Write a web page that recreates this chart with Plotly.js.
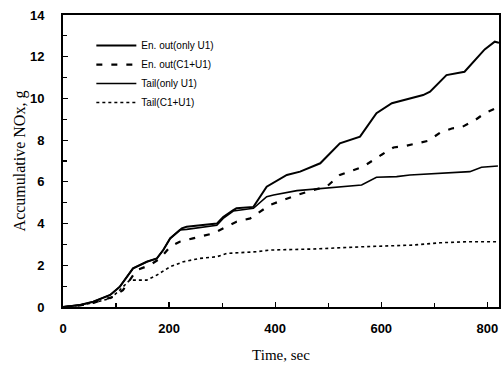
<!DOCTYPE html>
<html>
<head>
<meta charset="utf-8">
<script src="https://cdn.plot.ly/plotly-3.0.1.min.js"></script>
<style>html,body{margin:0;padding:0;background:#fff;}#chart{width:503px;height:379px;}</style>
</head>
<body>
<div id="chart"></div>
<script>
// Series: time (sec) and accumulative NOx (g)
const enOnlyT = [0, 32, 57, 89, 107, 120, 132, 158, 177, 189, 202, 224, 233, 290, 302, 321, 327, 359, 384, 422, 447, 485, 522, 560, 591, 620, 648, 679, 692, 723, 757, 777, 795, 814, 822];
const enOnlyV = [0, 0.1, 0.25, 0.58, 0.97, 1.45, 1.85, 2.17, 2.33, 2.73, 3.29, 3.77, 3.85, 4.0, 4.32, 4.65, 4.73, 4.8, 5.77, 6.33, 6.49, 6.89, 7.85, 8.17, 9.29, 9.77, 9.96, 10.16, 10.32, 11.12, 11.28, 11.84, 12.35, 12.72, 12.67];

const enC1T = [0, 32, 57, 95, 113, 126, 139, 164, 183, 202, 220, 245, 283, 327, 353, 390, 441, 472, 497, 522, 566, 600, 623, 645, 667, 689, 711, 733, 751, 777, 795, 816];
const enC1V = [0, 0.08, 0.2, 0.49, 0.81, 1.29, 1.77, 2.01, 2.33, 2.89, 3.13, 3.29, 3.53, 4.09, 4.25, 4.89, 5.37, 5.61, 5.77, 6.33, 6.73, 7.29, 7.65, 7.72, 7.85, 7.97, 8.36, 8.56, 8.61, 8.96, 9.29, 9.53];

const tailOnlyT = [0, 32, 57, 89, 107, 120, 132, 158, 177, 189, 202, 220, 233, 290, 302, 321, 359, 384, 397, 441, 497, 535, 563, 591, 629, 654, 692, 755, 767, 789, 820];
const tailOnlyV = [0, 0.1, 0.25, 0.58, 0.97, 1.45, 1.85, 2.17, 2.33, 2.73, 3.29, 3.69, 3.72, 3.92, 4.25, 4.6, 4.73, 5.29, 5.37, 5.58, 5.69, 5.8, 5.85, 6.22, 6.25, 6.33, 6.38, 6.44, 6.49, 6.7, 6.76];

const tailC1T = [0, 32, 57, 89, 107, 126, 158, 177, 202, 227, 258, 290, 309, 365, 390, 472, 566, 660, 711, 761, 820];
const tailC1V = [0, 0.08, 0.2, 0.41, 0.81, 1.29, 1.29, 1.53, 1.93, 2.17, 2.33, 2.41, 2.57, 2.65, 2.73, 2.78, 2.89, 2.97, 3.08, 3.13, 3.13];

const names = ["En. out(only U1)", "En. out(C1+U1)", "Tail(only U1)", "Tail(C1+U1)"];
const xTicks = [0, 200, 400, 600, 800];
const yTicks = [0, 2, 4, 6, 8, 10, 12, 14];

const traces = [
  {x: enOnlyT, y: enOnlyV, name: names[0], mode: 'lines', line: {color: '#000', width: 2, dash: 'solid'}},
  {x: enC1T, y: enC1V, name: names[1], mode: 'lines', line: {color: '#000', width: 2.2, dash: '6px,9px'}},
  {x: tailOnlyT, y: tailOnlyV, name: names[2], mode: 'lines', line: {color: '#000', width: 1.6, dash: 'solid'}},
  {x: tailC1T, y: tailC1V, name: names[3], mode: 'lines', line: {color: '#000', width: 1.6, dash: 'dot'}}
];

const layout = {
  width: 503, height: 379,
  margin: {l: 63, r: 4, t: 15, b: 72},
  paper_bgcolor: '#fff', plot_bgcolor: '#fff',
  showlegend: true,
  legend: {x: 0.065, y: 0.945, xanchor: 'left', yanchor: 'top', bgcolor: 'rgba(0,0,0,0)',
           font: {family: 'Liberation Sans, Arial, sans-serif', size: 10, color: '#000'},
           tracegroupgap: 0, itemwidth: 40},
  xaxis: {
    range: [0, 822], tickvals: xTicks, ticktext: xTicks.map(String),
    ticks: 'inside', ticklen: 5, tickwidth: 1.2, tickcolor: '#000',
    minor: {dtick: 100, tick0: 0, ticks: 'inside', ticklen: 4, tickcolor: '#000'},
    showline: true, linecolor: '#000', linewidth: 2, mirror: true,
    showgrid: false, zeroline: false,
    ticklabelstandoff: 8,
    tickfont: {family: 'Liberation Sans, Arial, sans-serif', size: 13, color: '#000', weight: 'bold'},
    title: {text: 'Time, sec', font: {family: 'Liberation Serif, Times New Roman, serif', size: 15, color: '#000'}, standoff: 15}
  },
  yaxis: {
    range: [0, 14], tickvals: yTicks, ticktext: yTicks.map(String),
    ticks: 'inside', ticklen: 5, tickwidth: 1.2, tickcolor: '#000',
    minor: {dtick: 1, tick0: 0, ticks: 'inside', ticklen: 4, tickcolor: '#000'},
    showline: true, linecolor: '#000', linewidth: 2, mirror: true,
    showgrid: false, zeroline: false,
    ticklabelstandoff: 14,
    tickfont: {family: 'Liberation Sans, Arial, sans-serif', size: 13, color: '#000', weight: 'bold'},
    title: {text: 'Accumulative NOx, g', font: {family: 'Liberation Serif, Times New Roman, serif', size: 16, color: '#000'}, standoff: 0}
  }
};

Plotly.newPlot('chart', traces, layout, {displayModeBar: false, staticPlot: true});
</script>
</body>
</html>
